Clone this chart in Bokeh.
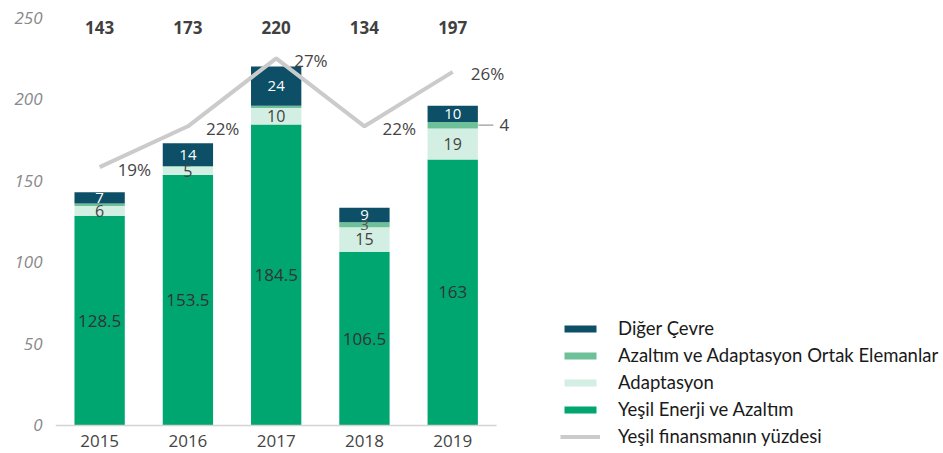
from bokeh.plotting import figure
from bokeh.models import (ColumnDataSource, Range1d, FixedTicker, Legend, LegendItem)
from bokeh.transform import dodge
from bokeh.core.properties import value
from bokeh.embed import file_html
from bokeh.resources import INLINE

# ---- data ----
years = ["2015", "2016", "2017", "2018", "2019"]
green_energy = [128.5, 153.5, 184.5, 106.5, 163]
adaptation = [6, 5, 10, 15, 19]
common = [1.5, 0.5, 1.5, 3, 4]
other_env = [7, 14, 24, 9, 10]
totals = [143, 173, 220, 134, 197]
green_pct = [19, 22, 27, 22, 26]
y_ticks = [0, 50, 100, 150, 200, 250]
common_inside = ["2018"]
common_outside = ["2019"]

series_names = ["Yeşil Enerji ve Azaltım", "Adaptasyon",
                "Azaltım ve Adaptasyon Ortak Elemanlar", "Diğer Çevre"]
line_name = "Yeşil finansmanın yüzdesi"

C_GREEN = "#00a66f"
C_ADAPT = "#d3eee2"
C_COMMON = "#6dc097"
C_OTHER = "#0c4f67"
C_LINE = "#cbcbcb"
FONT = "Open Sans"

Y_MIN = -17.16
Y_MAX = 259.2
PCT_MIN = Y_MIN * 30 / 250
PCT_MAX = Y_MAX * 30 / 250
TOTAL_LEVEL = 244
X_END = 9.56

xpos = list(range(len(years)))

src = ColumnDataSource(dict(x=xpos, green=green_energy, adapt=adaptation,
                            common=common, other=other_env, pct=green_pct,
                            total=[str(t) for t in totals],
                            pct_label=[f"{v}%" for v in green_pct],
                            total_y=[TOTAL_LEVEL] * len(years)))

p = figure(x_range=Range1d(-0.5, X_END), y_range=Range1d(Y_MIN, Y_MAX),
           width=943, height=453, output_backend="svg", toolbar_location=None,
           min_border_left=55, min_border_right=0, min_border_top=2, min_border_bottom=0)
p.extra_y_ranges = {"pct": Range1d(PCT_MIN, PCT_MAX)}
p.outline_line_color = None
p.xgrid.visible = False
p.ygrid.visible = False
p.background_fill_color = "white"
p.border_fill_color = "white"

stack_cols = ["green", "adapt", "common", "other"]
colors = [C_GREEN, C_ADAPT, C_COMMON, C_OTHER]
bars = p.vbar_stack(stack_cols, x="x", width=0.57, color=colors, line_color=None, source=src)

line = p.line("x", "pct", y_range_name="pct", line_color=C_LINE, line_width=4, source=src)

# ---- segment labels ----
lx, ly, lt, lc, ls = [], [], [], [], []
for i, yr in enumerate(years):
    base = 0.0
    layers = [green_energy[i], adaptation[i], common[i], other_env[i]]
    mids = []
    for v in layers:
        mids.append(base + v / 2)
        base += v
    lx.append(xpos[i]); ly.append(mids[0]); lt.append(f"{green_energy[i]:g}"); lc.append("#333333"); ls.append("17px")
    lx.append(xpos[i]); ly.append(mids[1]); lt.append(f"{adaptation[i]:g}"); lc.append("#444444"); ls.append("16px")
    if yr in common_inside:
        lx.append(xpos[i]); ly.append(mids[2]); lt.append(f"{common[i]:g}"); lc.append("#555555"); ls.append("15px")
    lx.append(xpos[i]); ly.append(mids[3]); lt.append(f"{other_env[i]:g}"); lc.append("white"); ls.append("15px")
seg_src = ColumnDataSource(dict(x=lx, y=ly, t=lt, c=lc, s=ls))
p.text("x", "y", text="t", text_color="c", text_font_size="s", text_font=value(FONT),
       text_align="center", text_baseline="middle", source=seg_src)

# outside label for common element
ox, oy, ot = [], [], []
for i, yr in enumerate(years):
    if yr in common_outside:
        ox.append(xpos[i])
        oy.append(green_energy[i] + adaptation[i] + common[i] / 2)
        ot.append(f"{common[i]:g}")
out_src = ColumnDataSource(dict(x=ox, y=oy, t=ot))
p.segment(x0=dodge("x", 0.29), y0="y", x1=dodge("x", 0.46), y1="y",
          line_color="#9a9a9a", line_width=1.2, source=out_src)
p.text(x=dodge("x", 0.53), y="y", text="t", text_color="#444444",
       text_font_size="17px", text_font=value(FONT), text_align="left",
       text_baseline="middle", source=out_src)

# totals
p.text("x", "total_y", text="total", text_color="#404040", text_font_size="17px",
       text_font=value(FONT), text_font_style="bold", text_align="center",
       text_baseline="middle", source=src)

# percent labels
p.text("x", "pct", text="pct_label", y_range_name="pct", x_offset=18, y_offset=2,
       text_color="#444444", text_font_size="17px", text_font=value(FONT),
       text_align="left", text_baseline="middle", source=src)

# ---- axes ----
p.yaxis.ticker = FixedTicker(ticks=y_ticks)
p.yaxis.axis_line_color = None
p.yaxis.major_tick_line_color = None
p.yaxis.minor_tick_line_color = None
p.yaxis.major_tick_out = 0
p.yaxis.major_tick_in = 0
p.yaxis.major_label_standoff = 13
p.yaxis.major_label_text_font = FONT
p.yaxis.major_label_text_font_style = "italic"
p.yaxis.major_label_text_font_size = "17px"
p.yaxis.major_label_text_color = "#8a8a8a"

p.xaxis.fixed_location = 0
p.xaxis.ticker = FixedTicker(ticks=xpos)
p.xaxis.major_label_overrides = {i: y for i, y in zip(xpos, years)}
p.xaxis.bounds = (-0.5, len(years) - 0.5)
p.xaxis.axis_line_color = "#d4d4d4"
p.xaxis.axis_line_width = 1.5
p.xaxis.major_tick_line_color = None
p.xaxis.minor_tick_line_color = None
p.xaxis.major_tick_out = 0
p.xaxis.major_tick_in = 0
p.xaxis.major_label_standoff = 10
p.xaxis.major_label_text_font = FONT
p.xaxis.major_label_text_font_size = "17px"
p.xaxis.major_label_text_color = "#444444"

# ---- legend ----
items = [LegendItem(label=series_names[3], renderers=[bars[3]]),
         LegendItem(label=series_names[2], renderers=[bars[2]]),
         LegendItem(label=series_names[1], renderers=[bars[1]]),
         LegendItem(label=series_names[0], renderers=[bars[0]]),
         LegendItem(label=line_name, renderers=[line])]
legend = Legend(items=items, location=(505, 6), orientation="vertical",
                glyph_width=40, glyph_height=9, label_height=20, spacing=5,
                label_standoff=18, padding=0, margin=0,
                border_line_color=None, background_fill_alpha=0,
                label_text_font="Lato", label_text_font_size="18.5px",
                label_text_color="#1a1a1a")
p.add_layout(legend)

open("out.html", "w").write(file_html(p, INLINE))
